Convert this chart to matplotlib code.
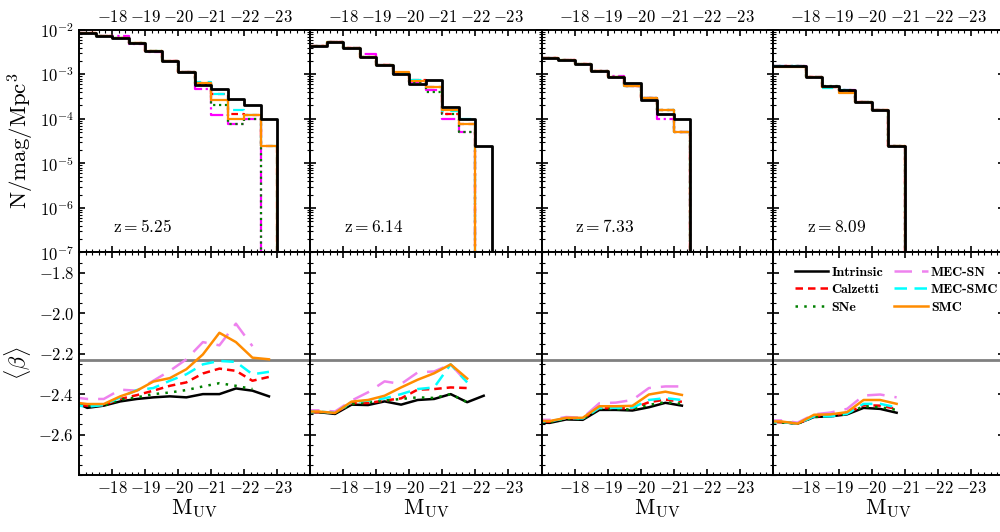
import numpy as np
import matplotlib
matplotlib.use("Agg")
import matplotlib.pyplot as plt
from matplotlib.ticker import FixedLocator, MultipleLocator, FuncFormatter, LogLocator, NullFormatter

plt.rcParams['mathtext.fontset'] = 'cm'
plt.rcParams['font.family'] = 'serif'
plt.rcParams['font.serif'] = ['cmr10', 'DejaVu Serif']
plt.rcParams['axes.linewidth'] = 1.4

# redshift of each column
redshifts = [5.25, 6.14, 7.33, 8.09]

# luminosity function bins (0.5 mag wide)
mag_edges = [-17.0, -17.5, -18.0, -18.5, -19.0, -19.5, -20.0, -20.5, -21.0,
             -21.5, -22.0, -22.5, -23.0]

lf_intrinsic = [
    [8.3e-3, 7.4e-3, 6.5e-3, 5.0e-3, 3.4e-3, 2.0e-3, 1.15e-3, 5.8e-4, 4.6e-4, 2.8e-4, 2.0e-4, 1.0e-4],
    [4.4e-3, 5.2e-3, 3.9e-3, 2.5e-3, 1.6e-3, 1.04e-3, 6.0e-4, 7.5e-4, 1.8e-4, 1.0e-4, 2.5e-5, 0],
    [2.3e-3, 2.1e-3, 1.7e-3, 1.17e-3, 8.9e-4, 6.3e-4, 2.6e-4, 1.3e-4, 1.0e-4, 0, 0, 0],
    [1.5e-3, 1.5e-3, 8.9e-4, 5.6e-4, 4.5e-4, 2.35e-4, 1.6e-4, 2.5e-5, 0, 0, 0, 0],
]
lf_calzetti = [
    [8.3e-3, 7.4e-3, 6.5e-3, 5.0e-3, 3.4e-3, 2.0e-3, 1.15e-3, 6.3e-4, 3.6e-4, 1.3e-4, 1.25e-4, 2.5e-5],
    [4.4e-3, 5.2e-3, 3.9e-3, 2.5e-3, 1.6e-3, 1.06e-3, 7.3e-4, 5.1e-4, 1.3e-4, 7.6e-5, 0, 0],
    [2.3e-3, 2.1e-3, 1.7e-3, 1.17e-3, 8.9e-4, 5.6e-4, 2.9e-4, 1.6e-4, 5.0e-5, 0, 0, 0],
    [1.5e-3, 1.5e-3, 8.9e-4, 5.3e-4, 4.3e-4, 2.35e-4, 1.6e-4, 2.5e-5, 0, 0, 0, 0],
]
lf_sne = [
    [8.3e-3, 7.4e-3, 6.5e-3, 5.0e-3, 3.4e-3, 2.0e-3, 1.15e-3, 6.0e-4, 2.1e-4, 7.5e-5, 1.0e-4, 0],
    [4.4e-3, 5.2e-3, 3.9e-3, 2.5e-3, 1.6e-3, 1.04e-3, 6.6e-4, 4.0e-4, 1.3e-4, 5.0e-5, 0, 0],
    [2.3e-3, 2.1e-3, 1.7e-3, 1.17e-3, 8.9e-4, 5.6e-4, 2.9e-4, 1.6e-4, 5.0e-5, 0, 0, 0],
    [1.5e-3, 1.5e-3, 8.9e-4, 5.4e-4, 4.4e-4, 2.35e-4, 1.6e-4, 2.5e-5, 0, 0, 0, 0],
]
lf_mec_sn = [
    [8.3e-3, 7.4e-3, 7.4e-3, 4.8e-3, 3.2e-3, 2.0e-3, 1.15e-3, 4.6e-4, 1.25e-4, 7.5e-5, 1.0e-4, 0],
    [4.4e-3, 5.3e-3, 3.9e-3, 2.8e-3, 1.6e-3, 1.04e-3, 6.6e-4, 4.5e-4, 1.0e-4, 5.0e-5, 0, 0],
    [2.3e-3, 2.1e-3, 1.7e-3, 1.17e-3, 9.3e-4, 5.6e-4, 2.9e-4, 1.0e-4, 5.0e-5, 0, 0, 0],
    [1.5e-3, 1.5e-3, 8.9e-4, 5.1e-4, 4.4e-4, 2.35e-4, 1.6e-4, 2.5e-5, 0, 0, 0, 0],
]
lf_mec_smc = [
    [8.3e-3, 7.4e-3, 6.5e-3, 5.0e-3, 3.4e-3, 2.0e-3, 1.15e-3, 6.6e-4, 3.6e-4, 1.6e-4, 1.25e-4, 2.5e-5],
    [4.4e-3, 5.2e-3, 3.9e-3, 2.5e-3, 1.6e-3, 1.06e-3, 7.3e-4, 5.3e-4, 1.5e-4, 1.0e-4, 0, 0],
    [2.3e-3, 2.1e-3, 1.7e-3, 1.17e-3, 8.9e-4, 5.6e-4, 2.9e-4, 1.6e-4, 5.0e-5, 0, 0, 0],
    [1.5e-3, 1.5e-3, 8.9e-4, 5.0e-4, 4.5e-4, 2.35e-4, 1.6e-4, 2.5e-5, 0, 0, 0, 0],
]
lf_smc = [
    [8.3e-3, 7.4e-3, 6.5e-3, 5.0e-3, 3.4e-3, 2.0e-3, 1.15e-3, 6.3e-4, 2.6e-4, 1.0e-4, 1.25e-4, 2.5e-5],
    [4.4e-3, 5.2e-3, 3.9e-3, 2.5e-3, 1.65e-3, 1.1e-3, 7.0e-4, 5.1e-4, 1.6e-4, 7.6e-5, 0, 0],
    [2.3e-3, 2.1e-3, 1.7e-3, 1.17e-3, 8.9e-4, 5.6e-4, 2.9e-4, 1.6e-4, 5.0e-5, 0, 0, 0],
    [1.45e-3, 1.45e-3, 8.9e-4, 5.2e-4, 3.9e-4, 2.35e-4, 1.6e-4, 2.5e-5, 0, 0, 0, 0],
]

# mean UV slope per magnitude bin (None = no galaxies)
beta_mags = [-16.75, -17.25, -17.75, -18.25, -18.75, -19.25, -19.75, -20.25,
             -20.75, -21.25, -21.75, -22.25, -22.75]

beta_intrinsic = [
    [-2.43, -2.468, -2.457, -2.436, -2.424, -2.416, -2.411, -2.416, -2.40, -2.40, -2.372, -2.383, -2.411],
    [-2.49, -2.489, -2.498, -2.452, -2.454, -2.436, -2.452, -2.429, -2.424, -2.40, -2.44, -2.408, None],
    [-2.54, -2.542, -2.525, -2.527, -2.478, -2.478, -2.481, -2.465, -2.443, -2.457, None, None, None],
    [-2.536, -2.538, -2.546, -2.513, -2.51, -2.50, -2.468, -2.473, -2.492, None, None, None, None],
]
beta_calzetti = [
    [-2.452, -2.457, -2.454, -2.424, -2.405, -2.383, -2.359, -2.342, -2.298, -2.274, -2.285, -2.334, -2.315],
    [-2.489, -2.489, -2.493, -2.444, -2.444, -2.432, -2.421, -2.378, -2.375, -2.367, -2.37, None, None],
    [-2.536, -2.536, -2.518, -2.52, -2.469, -2.469, -2.471, -2.44, -2.427, -2.438, None, None, None],
    [-2.536, -2.538, -2.546, -2.51, -2.505, -2.494, -2.455, -2.457, -2.473, None, None, None, None],
]
beta_sne = [
    [-2.452, -2.457, -2.457, -2.427, -2.416, -2.40, -2.392, -2.38, -2.362, -2.346, -2.359, -2.375, None],
    [-2.489, -2.489, -2.493, -2.449, -2.44, -2.432, -2.424, -2.416, -2.419, -2.40, -2.44, None, None],
    [-2.538, -2.538, -2.522, -2.523, -2.471, -2.474, -2.476, -2.453, -2.44, -2.448, None, None, None],
    [-2.538, -2.54, -2.546, -2.513, -2.51, -2.497, -2.46, -2.465, -2.478, None, None, None, None],
]
beta_mec_sn = [
    [-2.414, -2.424, -2.424, -2.378, -2.383, -2.334, -2.285, -2.228, -2.143, -2.159, -2.052, -2.163, None],
    [-2.48, -2.48, -2.486, -2.432, -2.391, -2.337, -2.35, -2.293, -2.288, -2.253, -2.342, None, None],
    [-2.527, -2.527, -2.513, -2.517, -2.445, -2.442, -2.429, -2.37, -2.362, -2.362, None, None, None],
    [-2.53, -2.53, -2.541, -2.50, -2.491, -2.473, -2.407, -2.402, -2.416, None, None, None, None],
]
beta_mec_smc = [
    [-2.452, -2.462, -2.454, -2.416, -2.38, -2.37, -2.334, -2.302, -2.253, -2.236, -2.241, -2.302, -2.29],
    [-2.486, -2.486, -2.493, -2.44, -2.432, -2.421, -2.40, -2.375, -2.367, -2.253, -2.342, None, None],
    [-2.535, -2.535, -2.518, -2.52, -2.468, -2.468, -2.468, -2.429, -2.42, -2.429, None, None, None],
    [-2.538, -2.538, -2.546, -2.51, -2.51, -2.497, -2.448, -2.448, -2.465, None, None, None, None],
]
beta_smc = [
    [-2.439, -2.449, -2.449, -2.411, -2.383, -2.338, -2.321, -2.277, -2.204, -2.097, -2.143, -2.22, -2.228],
    [-2.486, -2.486, -2.493, -2.437, -2.429, -2.408, -2.367, -2.329, -2.297, -2.253, -2.323, None, None],
    [-2.533, -2.533, -2.517, -2.517, -2.46, -2.46, -2.458, -2.402, -2.388, -2.404, None, None, None],
    [-2.535, -2.535, -2.546, -2.502, -2.50, -2.489, -2.429, -2.429, -2.448, None, None, None, None],
]

beta_ref = -2.23
mag_ticks = [-18, -19, -20, -21, -22, -23]

# top row: (label, data, color, linestyle, lw)
lf_series = [
    ("MEC-SN", lf_mec_sn, "magenta", "-.", 1.6),
    ("SNe", lf_sne, "green", ":", 1.6),
    ("Calzetti", lf_calzetti, "red", (0, (3, 2)), 1.6),
    ("MEC-SMC", lf_mec_smc, "cyan", (0, (5, 3)), 1.6),
    ("SMC", lf_smc, "darkorange", "-", 1.6),
    ("Intrinsic", lf_intrinsic, "black", "-", 2.0),
]
beta_series = {
    "Intrinsic": (beta_intrinsic, "black", "-"),
    "Calzetti": (beta_calzetti, "red", (0, (3, 2))),
    "SNe": (beta_sne, "green", (0, (1, 2.5))),
    "MEC-SN": (beta_mec_sn, "violet", (0, (7, 4))),
    "MEC-SMC": (beta_mec_smc, "cyan", (0, (5, 3))),
    "SMC": (beta_smc, "darkorange", "-"),
}

fig, axes = plt.subplots(2, 4, figsize=(10, 5.32), dpi=100)
fig.subplots_adjust(left=0.079, right=1.004, top=0.944, bottom=0.107,
                    wspace=0, hspace=0)

mag_fmt = FuncFormatter(lambda v, p: r'$%d$' % v)

for j in range(4):
    ax = axes[0, j]
    for name, data, color, ls, lw in lf_series:
        y = list(data[j]) + [0]
        ax.step(mag_edges, y, where='post', color=color, ls=ls, lw=lw)
    ax.set_yscale('log')
    ax.set_ylim(1e-7, 1e-2)
    ax.set_xlim(-17, -24)
    ax.text(0.147, 0.115, r'$\mathrm{z} = %.2f$' % redshifts[j], transform=ax.transAxes,
            fontsize=12.5, ha='left', va='center')
    ax.yaxis.set_major_locator(LogLocator(base=10, numticks=10))
    ax.yaxis.set_minor_locator(LogLocator(base=10, subs=np.arange(2, 10), numticks=10))
    ax.yaxis.set_minor_formatter(NullFormatter())
    ax.yaxis.set_major_formatter(FuncFormatter(lambda v, p: r'$10^{%d}$' % round(np.log10(v))))
    ax.tick_params(labeltop=True, labelbottom=False)
    if j == 0:
        ax.set_ylabel(r'$\mathrm{N/mag/Mpc^3}$', fontsize=16.5, labelpad=3)
    else:
        ax.tick_params(labelleft=False)

    ax = axes[1, j]
    ax.axhline(beta_ref, color='gray', lw=2)
    for name in ["Intrinsic", "Calzetti", "SNe", "MEC-SN", "MEC-SMC", "SMC"]:
        data, color, ls = beta_series[name]
        yv = np.array(data[j], dtype=float)
        ax.plot(beta_mags, yv, color=color, ls=ls, lw=1.8, label=name)
    ax.set_xlim(-17, -24)
    ax.set_ylim(-2.8, -1.7)
    ax.yaxis.set_major_locator(FixedLocator([-2.6, -2.4, -2.2, -2.0, -1.8]))
    ax.yaxis.set_minor_locator(MultipleLocator(0.05))
    ax.yaxis.set_major_formatter(FuncFormatter(lambda v, p: r'$%.1f$' % v))
    ax.set_xlabel(r'$\mathrm{M_{UV}}$', fontsize=16, labelpad=1)
    if j == 0:
        ax.set_ylabel(r'$\langle\beta\rangle$', fontsize=16)
    else:
        ax.tick_params(labelleft=False)
    if j == 3:
        ax.legend(loc='upper left', bbox_to_anchor=(0.04, 0.995), ncol=2, frameon=False,
                  prop={'family': 'cmb10', 'size': 10}, handlelength=2.4,
                  columnspacing=0.8, labelspacing=0.35, handletextpad=0.25)

for ax in axes.flat:
    ax.xaxis.set_major_locator(FixedLocator(mag_ticks))
    ax.xaxis.set_minor_locator(MultipleLocator(0.2))
    ax.xaxis.set_major_formatter(mag_fmt)
    ax.tick_params(which='both', direction='in', top=True, right=True, labelsize=12)
    ax.tick_params(which='major', length=4.5, width=1.2)
    ax.tick_params(which='minor', length=2.2, width=0.8)

plt.savefig("out.png", dpi=100)
plt.close()
